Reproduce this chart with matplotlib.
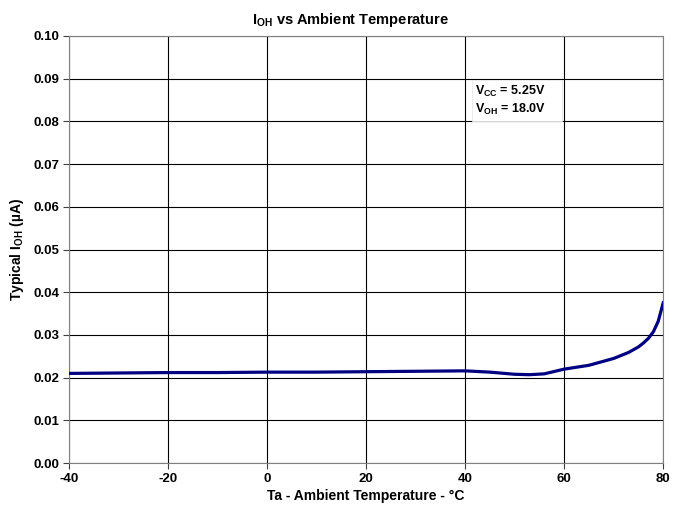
import matplotlib.pyplot as plt
from matplotlib.patches import Rectangle

plt.rcParams['font.family'] = ['Liberation Sans', 'DejaVu Sans']
plt.rcParams['mathtext.fontset'] = 'custom'
plt.rcParams['mathtext.rm'] = 'Liberation Sans:bold'
plt.rcParams['mathtext.it'] = 'Liberation Sans:bold'
plt.rcParams['mathtext.bf'] = 'Liberation Sans:bold'

temp = [-40, -30, -20, -10, 0, 10, 20, 30, 40, 45, 50, 53, 56, 60, 65, 70, 73, 75, 76, 77, 78, 79, 80]
ioh = [0.0210, 0.0211, 0.0212, 0.0212, 0.0213, 0.0213, 0.0214, 0.0215, 0.0216,
       0.0213, 0.0208, 0.0207, 0.0209, 0.0220, 0.0229, 0.0245, 0.0259, 0.0272,
       0.0281, 0.0292, 0.0307, 0.0332, 0.0375]
xticks = [-40, -20, 0, 20, 40, 60, 80]
yticks = [i / 100 for i in range(11)]

fig = plt.figure(figsize=(6.76, 5.14), dpi=100)
ax = fig.add_axes([0.102, 0.099, 0.879, 0.831])
ax.plot(temp, ioh, color='#000080', lw=2.3, solid_joinstyle='round', zorder=3)

ax.set_xlim(-40, 80)
ax.set_ylim(0, 0.10)
ax.set_xticks(xticks)
ax.set_yticks(yticks)
ax.set_xticklabels([str(t) for t in xticks], fontweight='bold', fontsize=9.5)
ax.set_yticklabels(['%.2f' % v for v in yticks], fontweight='bold', fontsize=9.5)
ax.grid(True, color='black', lw=0.8)
ax.set_axisbelow(True)
for s in ax.spines.values():
    s.set_color('#808080')
ax.tick_params(direction='out', length=4, color='#404040', pad=3)

fig.text(0.518, 0.962, 'I$_{OH}$ vs Ambient Temperature', fontweight='bold', fontsize=10.5,
         ha='center', va='center')
ax.set_xlabel('Ta - Ambient Temperature - °C', fontweight='bold', fontsize=10, labelpad=3)
ax.set_ylabel('Typical I$_{OH}$ (µA)', fontweight='bold', fontsize=10, labelpad=5)

# note box (white, covers grid)
ax.add_patch(Rectangle((41.4, 0.0801), 18.2, 0.0096, facecolor='white',
                       edgecolor='#e8e8e8', lw=0.6, zorder=2))
ax.text(42.0, 0.0869, 'V$_{CC}$ = 5.25V', fontsize=9, fontweight='bold', va='center', zorder=4)
ax.text(42.0, 0.0827, 'V$_{OH}$ = 18.0V', fontsize=9, fontweight='bold', va='center', zorder=4)

fig.savefig('out.png', dpi=100)
